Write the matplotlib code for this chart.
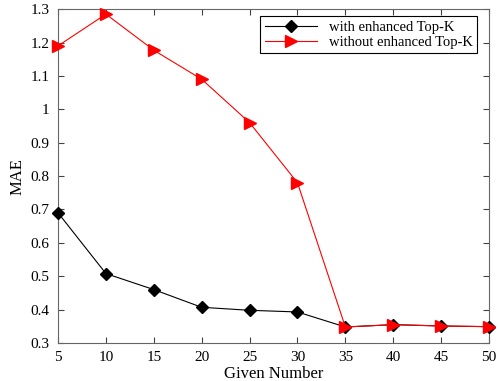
import numpy as np
import matplotlib.pyplot as plt

plt.rcParams['font.family'] = ['Liberation Serif', 'DejaVu Serif']

given = [5, 10, 15, 20, 25, 30, 35, 40, 45, 50]
mae_with = [0.690, 0.508, 0.460, 0.407, 0.398, 0.393, 0.348, 0.355, 0.351, 0.349]
mae_without = [1.190, 1.285, 1.177, 1.090, 0.960, 0.780, 0.348, 0.355, 0.351, 0.349]

fig = plt.figure(figsize=(4.98, 3.81), dpi=100)
ax = fig.add_axes([0.1165, 0.0997, 0.8655, 0.8763])

ax.plot(given, mae_with, color='black', lw=0.8, marker='D', ms=6,
        label='with enhanced Top-K', clip_on=False, zorder=3)
ax.plot(given, mae_without, color='red', lw=0.8, marker='>', ms=8,
        label='without enhanced Top-K', clip_on=False, zorder=4)

ax.set_xlim(5, 50)
ax.set_ylim(0.3, 1.3)
ax.set_xticks(given)
ax.set_yticks(np.arange(0.3, 1.31, 0.1))
ax.set_yticklabels(['0.3', '0.4', '0.5', '0.6', '0.7', '0.8', '0.9', '1', '1.1', '1.2', '1.3'])
ax.tick_params(direction='in', top=True, right=True, labelsize=11, length=4,
               color='#444444', pad=6)
for s in ax.spines.values():
    s.set_color('#666666')
    s.set_linewidth(0.8)

ax.set_xlabel('Given Number', fontsize=12, labelpad=1)
ax.set_ylabel('MAE', fontsize=12, labelpad=4)

leg = ax.legend(loc='upper right', fontsize=10.5, fancybox=False, framealpha=1,
                edgecolor='black', handlelength=3.6, borderpad=0.3,
                labelspacing=0.1, bbox_to_anchor=(0.989, 1.0))
leg.get_frame().set_linewidth(0.8)

fig.savefig('out.png', dpi=100)
